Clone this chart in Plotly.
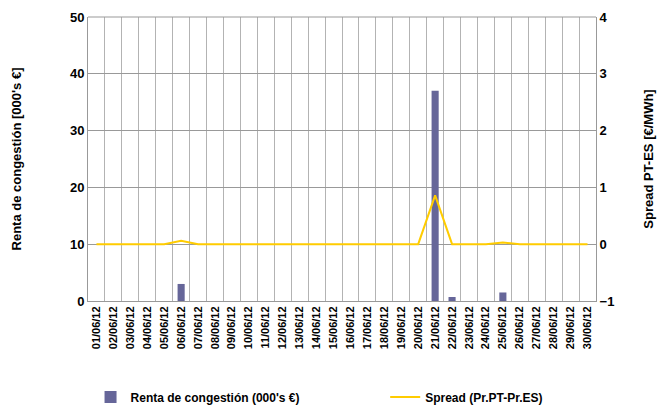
import plotly.graph_objects as go

dates = [f"{d:02d}/06/12" for d in range(1, 31)]
renta = [0, 0, 0, 0, 0, 3.0, 0, 0, 0, 0, 0, 0, 0, 0, 0, 0, 0, 0, 0, 0,
         37.0, 0.7, 0, 0, 1.5, 0, 0, 0, 0, 0]
spread = [0, 0, 0, 0, 0, 0.06, 0, 0, 0, 0, 0, 0, 0, 0, 0, 0, 0, 0, 0, 0,
          0.86, 0.0, 0, 0, 0.03, 0, 0, 0, 0, 0]

FONT = "Liberation Sans, Arial, sans-serif"

fig = go.Figure()
fig.add_trace(go.Bar(x=dates, y=renta, name="<b>Renta de congestión (000's €)</b>",
                     marker=dict(color="#666699", line=dict(width=0)), width=0.42, yaxis="y",
                     legend="legend"))
fig.add_trace(go.Scatter(x=dates, y=spread, name="<b>Spread (Pr.PT-Pr.ES)</b>", mode="lines",
                         line=dict(color="#FFCC00", width=2), yaxis="y2", legend="legend2"))

fig.update_layout(
    width=659, height=407,
    margin=dict(l=88, r=63, t=17, b=106, autoexpand=False),
    paper_bgcolor="white", plot_bgcolor="white",
    font=dict(family=FONT, color="black"),
    showlegend=True,
    xaxis=dict(type="category", tickson="boundaries", showgrid=True, gridcolor="#b3b3b3", gridwidth=1,
               showline=True, linecolor="#999999", linewidth=1, mirror=False, automargin=False,
               tickangle=-90, tickfont=dict(size=11, family=FONT), ticks="",
               tickvals=dates, ticktext=[f"<b>{d}</b>" for d in dates]),
    yaxis=dict(range=[0, 50], dtick=10, showgrid=True, gridcolor="#999999", gridwidth=1,
               showline=True, linecolor="#999999", linewidth=1, zeroline=False, automargin=False,
               tickfont=dict(size=13, family=FONT), ticks="", tickprefix="<b>", ticksuffix="</b>",
               title=dict(text="<b>Renta de congestión [000's €]</b>", font=dict(size=13), standoff=45)),
    yaxis2=dict(range=[-1, 4], dtick=1, overlaying="y", side="right", showgrid=False, zeroline=False,
                showline=True, linecolor="#999999", linewidth=1, automargin=False,
                tickfont=dict(size=13, family=FONT), ticks="", tickprefix="<b>", ticksuffix="</b>",
                title=dict(text="<b>Spread PT-ES [€/MWh]</b>", font=dict(size=13), standoff=30)),
    legend=dict(orientation="h", x=0.005, xanchor="left", y=-0.338, yanchor="middle",
                font=dict(size=12, family=FONT), bgcolor="rgba(0,0,0,0)"),
    legend2=dict(orientation="h", x=0.585, xanchor="left", y=-0.338, yanchor="middle",
                 font=dict(size=12, family=FONT), bgcolor="rgba(0,0,0,0)"),
)
fig.add_shape(type="line", xref="paper", yref="paper", x0=0, x1=1, y0=1, y1=1,
              line=dict(color="#999999", width=1))

fig.write_html("out.html", config={"displayModeBar": False},
               post_script="document.body.style.margin='0';document.body.style.overflow='hidden';")
